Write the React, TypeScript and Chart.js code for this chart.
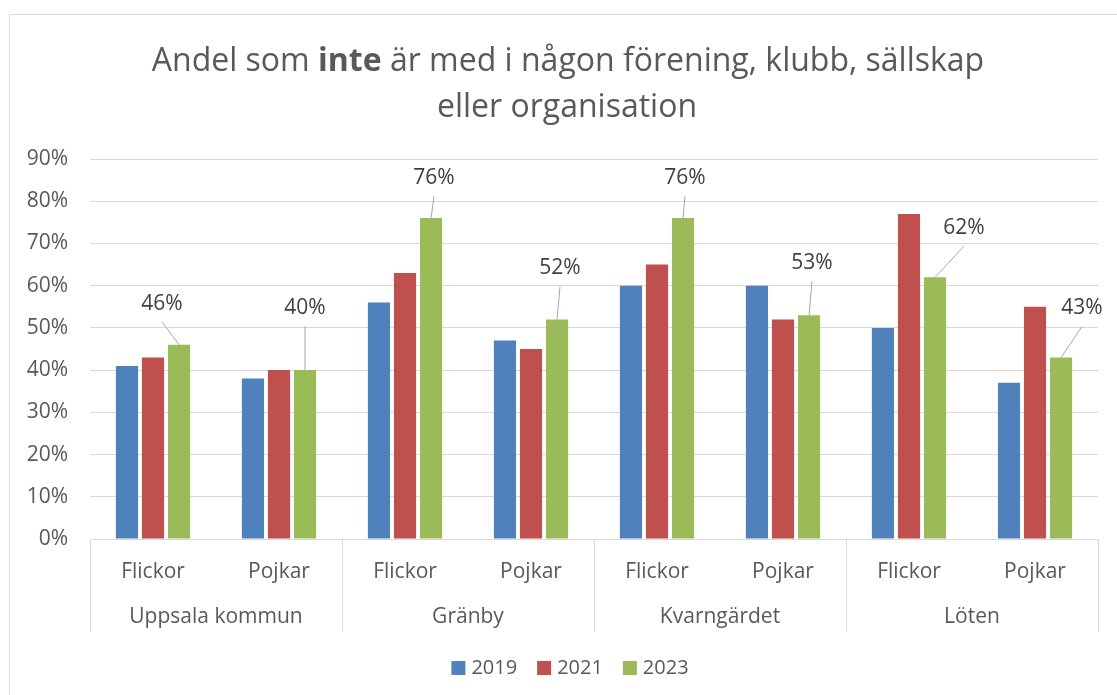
import React, { useEffect, useRef } from "react";
import { Chart, registerables } from "chart.js";

Chart.register(...registerables);

const subCategories = ["Flickor", "Pojkar", "Flickor", "Pojkar", "Flickor", "Pojkar", "Flickor", "Pojkar"];
const groups = ["Uppsala kommun", "Gränby", "Kvarngärdet", "Löten"];
const seriesNames = ["2019", "2021", "2023"];
const values2019 = [41, 38, 56, 47, 60, 60, 50, 37];
const values2021 = [43, 40, 63, 45, 65, 52, 77, 55];
const values2023 = [46, 40, 76, 52, 76, 53, 62, 43];
const yMax = 90;
const yStep = 10;
const titleLine1 = [
  { text: "Andel som ", bold: false },
  { text: "inte", bold: true },
  { text: " är med i någon förening, klubb, sällskap", bold: false },
];
const titleLine2 = "eller organisation";

// label offsets (px) relative to top of 2023 bar: [dx, dy]
const labelOffsets = [
  [-17, -41],
  [0, -62],
  [3, -40],
  [3, -51],
  [2, -40],
  [3, -52],
  [29, -49],
  [21, -49],
];

const FONT = '"Open Sans", "DejaVu Sans", sans-serif';
const TEXT = "#595959";
const GRID = "#d9d9d9";

export default function App() {
  const ref = useRef<HTMLCanvasElement | null>(null);

  useEffect(() => {
    document.body.style.margin = "0";
    let chart: Chart | null = null;
    let cancelled = false;

    const customPlugin = {
      id: "customDecor",
      afterDraw(c: any) {
        const ctx = c.ctx as CanvasRenderingContext2D;
        const area = c.chartArea;
        const xs = c.scales.x;
        ctx.save();

        // outer frame
        ctx.strokeStyle = GRID;
        ctx.lineWidth = 1;
        ctx.strokeRect(9.5, 14.5, 1200, 800);

        // title
        ctx.fillStyle = TEXT;
        ctx.textBaseline = "alphabetic";
        ctx.textAlign = "left";
        const tSize = 32;
        let total = 0;
        const widths: number[] = [];
        for (const p of titleLine1) {
          ctx.font = `${p.bold ? "bold " : ""}${tSize}px ${FONT}`;
          const w = ctx.measureText(p.text).width;
          widths.push(w);
          total += w;
        }
        let tx = 568 - total / 2;
        titleLine1.forEach((p, i) => {
          ctx.font = `${p.bold ? "bold " : ""}${tSize}px ${FONT}`;
          ctx.fillText(p.text, tx, 71);
          tx += widths[i];
        });
        ctx.font = `${tSize}px ${FONT}`;
        ctx.textAlign = "center";
        ctx.fillText(titleLine2, 567, 117);

        // category axis
        const n = subCategories.length;
        const catW = (area.right - area.left) / n;
        ctx.strokeStyle = GRID;
        ctx.lineWidth = 1;
        for (let g = 0; g <= groups.length; g++) {
          const x = Math.round(area.left + g * 2 * catW) + 0.5;
          ctx.beginPath();
          ctx.moveTo(x, area.bottom);
          ctx.lineTo(x, area.bottom + 93);
          ctx.stroke();
        }
        ctx.fillStyle = TEXT;
        ctx.font = `21px ${FONT}`;
        ctx.textAlign = "center";
        ctx.textBaseline = "middle";
        subCategories.forEach((s, i) => {
          ctx.fillText(s, xs.getPixelForValue(i), area.bottom + 33);
        });
        groups.forEach((g, i) => {
          ctx.fillText(g, area.left + (2 * i + 1) * catW, area.bottom + 78);
        });

        // data labels for last series with leader lines
        const dsIndex = 2;
        const meta = c.getDatasetMeta(dsIndex);
        ctx.font = `21px ${FONT}`;
        meta.data.forEach((bar: any, i: number) => {
          const off = labelOffsets[i];
          const lx = bar.x + off[0];
          const ly = bar.y + off[1];
          ctx.strokeStyle = "#a6a6a6";
          ctx.lineWidth = 1;
          ctx.beginPath();
          ctx.moveTo(bar.x, bar.y);
          ctx.lineTo(lx, ly + 18);
          ctx.stroke();
          ctx.fillStyle = "#404040";
          ctx.fillText(`${c.data.datasets[dsIndex].data[i]}%`, lx, ly);
        });

        // legend
        ctx.font = `20px ${FONT}`;
        const box = 14;
        const gap = 6;
        const spacing = 20;
        const items = c.data.datasets.map((d: any) => ({
          label: d.label,
          color: d.backgroundColor,
          w: ctx.measureText(d.label).width,
        }));
        const totalW =
          items.reduce((s: number, it: any) => s + box + gap + it.w, 0) + spacing * (items.length - 1);
        let lx = 570 - totalW / 2;
        const ly = 668;
        ctx.textAlign = "left";
        ctx.textBaseline = "middle";
        items.forEach((it: any) => {
          ctx.fillStyle = it.color;
          ctx.fillRect(lx, ly - box / 2, box, box);
          ctx.fillStyle = TEXT;
          ctx.fillText(it.label, lx + box + gap, ly);
          lx += box + gap + it.w + spacing;
        });

        ctx.restore();
      },
    };

    const create = () => {
      if (cancelled || !ref.current) return;
      chart = new Chart(ref.current, {
        type: "bar",
        data: {
          labels: subCategories,
          datasets: [
            { label: seriesNames[0], data: values2019, backgroundColor: "#4F81BD" },
            { label: seriesNames[1], data: values2021, backgroundColor: "#C0504D" },
            { label: seriesNames[2], data: values2023, backgroundColor: "#9BBB59" },
          ],
        },
        options: {
          responsive: false,
          animation: false,
          layout: { padding: { top: 159, right: 19, bottom: 63, left: 0 } },
          datasets: {
            bar: { categoryPercentage: 0.62, barPercentage: 0.85 },
          },
          plugins: {
            legend: { display: false },
            title: { display: false },
            tooltip: { enabled: false },
          },
          scales: {
            x: {
              grid: { display: false },
              border: { display: false },
              ticks: { display: false },
              afterFit: (s: any) => {
                s.height = 93;
              },
            },
            y: {
              min: 0,
              max: yMax,
              ticks: {
                stepSize: yStep,
                padding: 22,
                color: TEXT,
                font: { family: FONT, size: 21 },
                callback: (v: any) => `${v}%`,
              },
              grid: { color: GRID, lineWidth: 1, drawTicks: false },
              border: { display: false },
              afterFit: (s: any) => {
                s.width = 90;
              },
            },
          },
        },
        plugins: [customPlugin],
      });
    };

    const fontsApi = (document as any).fonts;
    if (fontsApi && fontsApi.load) {
      Promise.all([
        fontsApi.load(`21px "Open Sans"`),
        fontsApi.load(`bold 32px "Open Sans"`),
      ])
        .catch(() => null)
        .then(create);
    } else {
      create();
    }

    return () => {
      cancelled = true;
      if (chart) chart.destroy();
    };
  }, []);

  return (
    <div style={{ width: 1117, height: 695, background: "#fff" }}>
      <canvas ref={ref} width={1117} height={695} style={{ display: "block" }} />
    </div>
  );
}
